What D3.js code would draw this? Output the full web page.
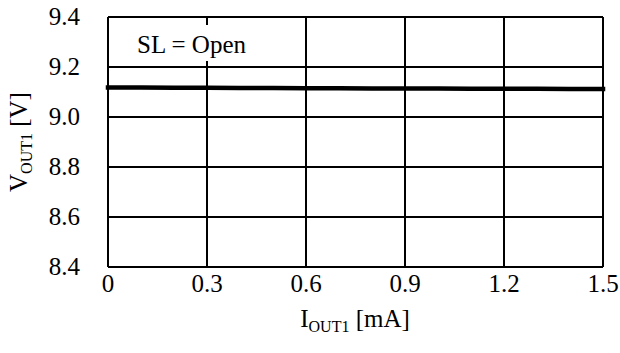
<!DOCTYPE html>
<html>
<head>
<meta charset="utf-8">
<script src="https://cdn.jsdelivr.net/npm/d3@7"></script>
<style>
  html, body { margin: 0; padding: 0; background: #fff; }
  svg { display: block; }
</style>
</head>
<body>
<svg id="chart" width="620" height="353" font-family="Liberation Serif"></svg>
<script>
// Output current (mA) and output voltage (V)
const currentMA = [0, 0.1, 0.2, 0.3, 0.4, 0.5, 0.6, 0.7, 0.8, 0.9, 1.0, 1.1, 1.2, 1.3, 1.4, 1.5];
const voltageV  = [9.118, 9.118, 9.117, 9.117, 9.116, 9.116, 9.115, 9.115, 9.114, 9.114, 9.114, 9.113, 9.113, 9.113, 9.112, 9.112];

const xTicks = [0, 0.3, 0.6, 0.9, 1.2, 1.5];
const yTicks = [8.4, 8.6, 8.8, 9.0, 9.2, 9.4];
const legendText = "SL = Open";

const FONT = "'Liberation Serif', monospace";

const svg = d3.select("#chart");
const plot = { left: 108, right: 603, top: 17, bottom: 267 };

const x = d3.scaleLinear().domain([0, 1.5]).range([plot.left, plot.right]);
const y = d3.scaleLinear().domain([8.4, 9.4]).range([plot.bottom, plot.top]);

// Grid lines
const grid = svg.append("g").attr("stroke", "#000").attr("stroke-width", 2);
grid.selectAll("line.v").data(xTicks).join("line")
  .attr("x1", d => x(d)).attr("x2", d => x(d))
  .attr("y1", plot.top).attr("y2", plot.bottom);
grid.selectAll("line.h").data(yTicks).join("line")
  .attr("x1", plot.left).attr("x2", plot.right)
  .attr("y1", d => y(d)).attr("y2", d => y(d));

// Tick labels, placed with the scales
svg.append("g").selectAll("text").data(xTicks).join("text")
  .attr("x", d => x(d)).attr("y", plot.bottom + 25)
  .attr("text-anchor", "middle")
  .style("font-family", FONT).style("font-size", "25px")
  .text(d => d === 0 ? "0" : d3.format(".1f")(d));

svg.append("g").selectAll("text").data(yTicks).join("text")
  .attr("x", plot.left - 28).attr("y", d => y(d) + 8)
  .attr("text-anchor", "end")
  .style("font-family", FONT).style("font-size", "25px")
  .text(d => d3.format(".1f")(d));

// Legend label box
svg.append("rect").attr("x", 122).attr("y", 25).attr("width", 176).attr("height", 36).attr("fill", "#fff");
svg.append("text").attr("x", 137).attr("y", 53)
  .style("font-family", FONT).style("font-size", "25px").text(legendText);

// Data line
const line = d3.line().x((d, i) => x(currentMA[i])).y(d => y(d));
svg.append("path").datum(voltageV)
  .attr("d", line).attr("fill", "none").attr("stroke", "#000")
  .attr("stroke-width", 4.5).attr("stroke-linecap", "square");

// Axis titles
const xt = svg.append("text").attr("x", 355).attr("y", 327).attr("text-anchor", "middle")
  .style("font-family", FONT).style("font-size", "25px");
xt.append("tspan").text("I");
xt.append("tspan").style("font-size", "16px").attr("dy", 5).text("OUT1");
xt.append("tspan").attr("dy", -5).text(" [mA]");

const yt = svg.append("text").attr("transform", `translate(27,${(plot.top + plot.bottom) / 2}) rotate(-90)`)
  .attr("text-anchor", "middle").style("font-family", FONT).style("font-size", "25px");
yt.append("tspan").text("V");
yt.append("tspan").style("font-size", "16px").attr("dy", 5).text("OUT1");
yt.append("tspan").attr("dy", -5).text(" [V]");
</script>
</body>
</html>
